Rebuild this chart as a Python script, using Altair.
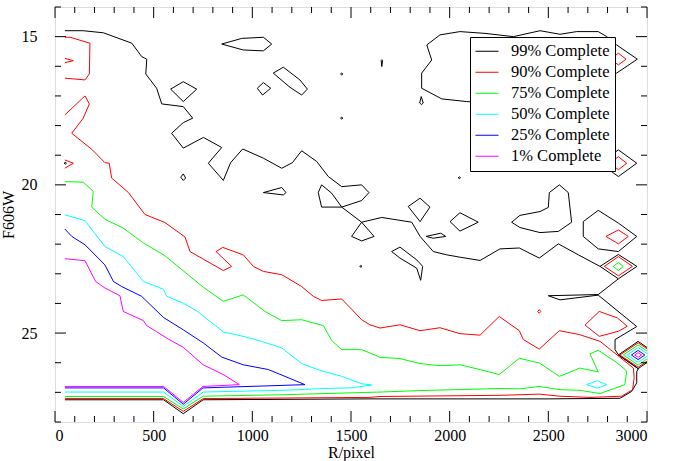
import altair as alt
import pandas as pd

# Contour levels, legend labels and line colours
levels = ["99% Complete", "90% Complete", "75% Complete",
          "50% Complete", "25% Complete", "1% Complete"]
colors = ["#000000", "#ff0000", "#00ff00", "#00ffff", "#0000ff", "#ff00ff"]

# ---- 99% contour pieces (R/pixel, F606W) ----
k_main = [(50, 14.80), (143, 14.80), (245, 14.87), (389, 15.22), (439, 15.67), (465, 15.76),
          (460, 16.26), (515, 16.74), (541, 17.27), (650, 17.36), (698, 17.75), (650, 17.90),
          (591, 18.26), (650, 18.76), (752, 18.40), (845, 18.74), (777, 19.27), (853, 19.85),
          (890, 19.25), (951, 18.79), (1056, 19.10), (1149, 19.44), (1203, 19.25), (1250, 18.85),
          (1326, 19.21), (1385, 19.72), (1453, 20.06), (1554, 20.00), (1591, 20.26), (1554, 20.53),
          (1453, 20.75), (1554, 21.26), (1656, 21.10), (1808, 21.26), (1850, 21.74), (1917, 22.25),
          (1985, 22.36), (2052, 22.44), (2154, 22.55), (2255, 22.16), (2353, 22.13), (2454, 22.47),
          (2551, 21.99), (2652, 22.36), (2762, 22.75)]
k_saddle_loop = [(1453, 20.75), (1351, 20.75), (1334, 20.26), (1351, 20.00), (1402, 20.28), (1453, 20.75)]
k_triangle = [(1554, 21.26), (1503, 21.74), (1554, 21.89), (1617, 21.74), (1554, 21.26)]
k_diamond_a = [(2762, 22.75), (2855, 22.35), (2949, 22.75), (2855, 23.17), (2762, 22.75)]
k_lower = [(2855, 23.17), (2753, 23.70), (2500, 23.74), (2559, 23.88), (2753, 23.72), (2948, 24.78),
           (2838, 25.22), (2838, 25.56), (2855, 25.73), (2956, 26.20), (2948, 26.30), (2948, 26.68),
           (2922, 26.97), (2863, 27.20), (2500, 27.22), (1596, 27.22), (751, 27.25), (650, 27.72),
           (550, 27.25), (50, 27.25)]
k_isl1 = [(845, 15.25), (946, 15.06), (1056, 15.02), (1098, 15.25), (1056, 15.48), (954, 15.45), (845, 15.25)]
k_isl2 = [(586, 16.77), (650, 16.52), (718, 16.77), (650, 17.19), (586, 16.77)]
k_isl3 = [(1025, 16.74), (1056, 16.55), (1093, 16.74), (1052, 16.97), (1025, 16.74)]
k_isl4 = [(1106, 16.23), (1157, 16.03), (1241, 16.46), (1279, 16.77), (1250, 16.97), (1191, 16.71), (1106, 16.23)]
k_isl5 = [(637, 19.74), (650, 19.63), (662, 19.77), (650, 19.85), (637, 19.74)]
k_isl6 = [(1056, 20.26), (1149, 20.09), (1171, 20.26), (1157, 20.34), (1056, 20.26)]
k_isl7 = [(1653, 15.80), (1656, 15.78), (1660, 15.80), (1656, 16.01), (1653, 15.80)]
k_isl8 = [(1848, 17.24), (1856, 17.02), (1866, 17.24), (1857, 17.29), (1848, 17.24)]
k_isl9 = [(1790, 20.73), (1850, 20.45), (1900, 20.75), (1850, 21.24), (1790, 20.73)]
k_isl10 = [(1880, 21.74), (1955, 21.63), (1980, 21.74), (1917, 21.80), (1880, 21.74)]
k_isl11 = [(2002, 21.24), (2052, 20.94), (2145, 21.26), (2052, 21.56), (2002, 21.24)]
k_isl12 = [(1706, 22.25), (1748, 22.10), (1833, 22.53), (1863, 22.75), (1853, 23.22), (1833, 22.81),
           (1748, 22.47), (1706, 22.25)]
k_isl13 = [(2314, 21.26), (2356, 21.03), (2458, 20.90), (2500, 20.76), (2505, 20.26), (2556, 20.00),
           (2601, 20.26), (2618, 21.26), (2551, 21.57), (2458, 21.61), (2356, 21.44), (2314, 21.26)]
k_isl14 = [(2677, 21.24), (2753, 20.86), (2855, 21.29), (2948, 21.74), (2855, 22.25), (2753, 22.16),
           (2677, 21.74), (2677, 21.24)]
k_top = [(1884, 15.28), (1951, 14.94), (2052, 14.83), (2179, 14.89), (2323, 15.00), (2458, 14.80),
         (2559, 14.92), (2644, 14.83), (2753, 14.83), (2796, 15.00), (2846, 15.28), (2951, 15.76),
         (2846, 16.23), (2700, 16.80), (2400, 17.30), (2086, 17.19), (1960, 17.10), (1858, 16.74),
         (1858, 16.23), (1909, 15.79), (1884, 15.28)]
k_isl15 = [(2762, 19.27), (2855, 18.82), (2948, 19.27), (2855, 19.72), (2762, 19.27)]
k_isl16 = [(2400, 19.20), (2448, 18.90), (2500, 19.20), (2448, 19.49), (2400, 19.20)]
k_dots = [(1453, 16.26), (1453, 17.75), (2049, 19.76), (1550, 22.75), (52, 19.27)]

# ---- 90% contour pieces ----
r_main = [(50, 17.64), (152, 17.00), (174, 17.27), (143, 17.75), (85, 18.26), (186, 18.80),
          (253, 19.25), (275, 19.27), (287, 19.77), (372, 20.26), (456, 21.00), (557, 21.27),
          (659, 21.76), (684, 22.25), (853, 22.89), (895, 22.75), (816, 22.25), (850, 22.11),
          (954, 22.36), (1005, 22.75), (1056, 22.92), (1149, 23.03), (1250, 23.43), (1309, 23.76),
          (1351, 23.90), (1453, 23.85), (1554, 24.55), (1596, 24.72), (1647, 24.83), (1748, 24.72),
          (1850, 24.92), (1951, 24.82), (2052, 25.02), (2154, 25.07), (2251, 24.44), (2353, 24.92),
          (2373, 25.22), (2454, 25.54), (2556, 24.92), (2657, 25.05), (2762, 25.28), (2860, 25.80),
          (2931, 26.18), (2935, 26.50), (2927, 26.91), (2872, 27.13), (2711, 27.17), (2559, 27.13),
          (2454, 27.06), (2255, 27.10), (1647, 27.14), (1596, 27.17), (751, 27.21), (650, 27.64),
          (550, 27.21), (50, 27.21)]
r_top_left = [(50, 15.02), (76, 15.02), (177, 15.22), (174, 16.26), (152, 16.46), (50, 16.40)]
r_tick_a = [(50, 15.73), (93, 15.81), (50, 15.88)]
r_tick_b = [(50, 19.16), (93, 19.27), (50, 19.44)]
r_isl1 = [(2686, 24.73), (2758, 24.27), (2850, 24.49), (2900, 24.77), (2855, 24.94), (2758, 25.11), (2686, 24.73)]
r_isl2 = [(2446, 24.27), (2454, 24.21), (2462, 24.27), (2454, 24.33), (2446, 24.27)]
r_isl3 = [(2792, 21.74), (2855, 21.52), (2905, 21.74), (2855, 21.99), (2792, 21.74)]
r_isl4 = [(2812, 15.76), (2855, 15.56), (2894, 15.76), (2855, 15.95), (2812, 15.76)]
r_isl5 = [(2812, 19.27), (2855, 19.05), (2897, 19.27), (2855, 19.49), (2812, 19.27)]
r_isl6 = [(2784, 22.75), (2855, 22.42), (2926, 22.75), (2855, 23.07), (2784, 22.75)]

# ---- 75% contour pieces ----
g_main = [(50, 19.89), (143, 19.91), (194, 20.22), (186, 20.75), (253, 21.16), (346, 21.46),
          (448, 21.96), (557, 22.39), (650, 22.90), (751, 23.45), (853, 23.93), (954, 23.71),
          (1064, 24.27), (1149, 24.58), (1250, 24.55), (1360, 24.75), (1402, 25.25), (1453, 25.56),
          (1554, 25.56), (1596, 25.67), (1647, 25.82), (1748, 25.86), (1850, 26.03), (1951, 26.10),
          (2052, 26.07), (2154, 26.23), (2251, 26.40), (2353, 25.85), (2454, 26.01), (2556, 26.46),
          (2660, 26.18), (2753, 26.31), (2711, 25.70), (2753, 25.58), (2846, 25.99), (2897, 26.28),
          (2888, 26.74), (2762, 27.04), (2660, 26.93), (2559, 26.91), (2454, 26.80),
          (2356, 26.88), (2255, 26.87), (1850, 26.94), (1647, 26.99), (1157, 27.08), (751, 27.13),
          (650, 27.56), (550, 27.14), (50, 27.14)]
g_isl1 = [(2829, 22.75), (2855, 22.62), (2880, 22.75), (2855, 22.89), (2829, 22.75)]

# ---- 50% contour pieces ----
c_main = [(50, 21.01), (152, 21.21), (253, 22.08), (346, 22.42), (448, 23.26), (549, 23.52),
          (566, 23.76), (650, 23.99), (718, 24.25), (853, 24.96), (954, 25.11), (1047, 25.28),
          (1149, 25.50), (1250, 26.03), (1343, 26.26), (1453, 26.46), (1554, 26.71), (1605, 26.75),
          (1495, 26.85), (1410, 26.86), (1157, 26.93), (751, 26.99), (650, 27.47), (550, 26.99),
          (50, 26.99)]
c_isl1 = [(2694, 26.74), (2748, 26.61), (2796, 26.74), (2748, 26.86), (2694, 26.74)]

# ---- 25% contour ----
b_main = [(50, 21.49), (85, 21.74), (152, 22.02), (253, 22.70), (296, 23.26), (338, 23.43),
          (439, 23.76), (549, 24.47), (650, 24.89), (751, 25.33), (845, 25.81), (954, 26.07),
          (1081, 26.23), (1267, 26.74), (750, 26.85), (650, 27.40), (550, 26.85), (50, 26.85)]

# ---- 1% contour ----
m_main = [(50, 22.49), (152, 22.56), (206, 23.26), (253, 23.48), (329, 23.74), (346, 24.27),
          (448, 24.58), (465, 24.75), (574, 25.20), (650, 25.48), (751, 26.07), (853, 26.40),
          (934, 26.74), (750, 26.80), (650, 27.34), (550, 26.80), (50, 26.80)]

# Peak in the lower-right corner: centre and half-widths (R/pixel, mag) per level
peak_centre = (2955, 25.74)
peak_half_x = [100, 92, 75, 55, 34, 17]
peak_half_y = [0.46, 0.41, 0.34, 0.25, 0.155, 0.078]

# Axis tick positions
x_major = [0, 500, 1000, 1500, 2000, 2500, 3000]
x_minor = [v for v in range(0, 3001, 100) if v % 500]
y_major = [15, 20, 25]
y_minor = [v for v in range(14, 29) if v % 5]

pieces = {
    levels[0]: [k_main, k_saddle_loop, k_triangle, k_diamond_a, k_lower, k_isl1, k_isl2, k_isl3,
                k_isl4, k_isl5, k_isl6, k_isl7, k_isl8, k_isl9, k_isl10, k_isl11, k_isl12,
                k_isl13, k_isl14, k_top, k_isl15, k_isl16],
    levels[1]: [r_main, r_top_left, r_tick_a, r_tick_b, r_isl1, r_isl2, r_isl3, r_isl4, r_isl5, r_isl6],
    levels[2]: [g_main, g_isl1],
    levels[3]: [c_main, c_isl1],
    levels[4]: [b_main],
    levels[5]: [m_main],
}

# tiny closed loops for the isolated 99% specks
for (dx, dy) in k_dots:
    pieces[levels[0]].append([(dx - 6, dy), (dx, dy - 0.03), (dx + 6, dy), (dx, dy + 0.03), (dx - 6, dy)])

# the corner peak rings
cx, cy = peak_centre
for lvl, hx, hy in zip(levels, peak_half_x, peak_half_y):
    pieces[lvl].append([(cx - hx, cy), (cx, cy - hy), (cx + hx, cy), (cx, cy + hy), (cx - hx, cy)])

rows = []
pid = 0
for lvl in levels:
    for path in pieces[lvl]:
        for i, (x, y) in enumerate(path):
            rows.append({"level": lvl, "path": pid, "order": i, "R": x, "mag": y})
        pid += 1
df = pd.DataFrame(rows)

W, H = 592, 415
FONT = "Times New Roman, Liberation Serif, Times, serif"

x_scale = alt.Scale(domain=[0, 3000], nice=False, zero=False)
y_scale = alt.Scale(domain=[14, 28], nice=False, zero=False, reverse=True)

contours = alt.Chart(df).mark_line(strokeWidth=1, clip=True).encode(
    x=alt.X("R:Q", scale=x_scale,
            axis=alt.Axis(title="R/pixel", values=x_major, format="d", ticks=False, domain=False,
                          grid=False, labelFont=FONT, labelFontSize=16, labelPadding=5,
                          titleFont=FONT, titleFontSize=16, titleFontWeight="normal",
                          titlePadding=1, labelColor="black", titleColor="black")),
    y=alt.Y("mag:Q", scale=y_scale,
            axis=alt.Axis(title="F606W", values=y_major, format="d", ticks=False, domain=False,
                          grid=False, labelFont=FONT, labelFontSize=16, labelPadding=18,
                          titleFont=FONT, titleFontSize=16, titleFontWeight="normal",
                          titlePadding=5, labelColor="black", titleColor="black")),
    color=alt.Color("level:N", scale=alt.Scale(domain=levels, range=colors),
                    legend=alt.Legend(title=None, orient="none", legendX=415, legendY=30,
                                      symbolType="stroke", symbolSize=529, symbolStrokeWidth=1,
                                      labelFont=FONT, labelFontSize=16.5, labelColor="black",
                                      labelOffset=12, clipHeight=18.5, rowPadding=2,
                                      padding=5, fillColor="white", strokeColor="black",
                                      labelLimit=300)),
    detail="path:N",
    order="order:Q",
)

xmaj = pd.DataFrame({"t": x_major})
xmin = pd.DataFrame({"t": x_minor})
ymaj = pd.DataFrame({"t": y_major})
ymin = pd.DataFrame({"t": y_minor})

MAJ, MIN = 11, 6


def xticks(data, length):
    base = alt.Chart(data).mark_rule(color="black", strokeWidth=1)
    bottom = base.encode(x=alt.X("t:Q", scale=x_scale), y=alt.value(H), y2=alt.value(H - length))
    top = base.encode(x=alt.X("t:Q", scale=x_scale), y=alt.value(0), y2=alt.value(length))
    return [bottom, top]


def yticks(data, length):
    base = alt.Chart(data).mark_rule(color="black", strokeWidth=1)
    left = base.encode(y=alt.Y("t:Q", scale=y_scale), x=alt.value(0), x2=alt.value(length))
    right = base.encode(y=alt.Y("t:Q", scale=y_scale), x=alt.value(W), x2=alt.value(W - length))
    return [left, right]


tick_layers = xticks(xmaj, MAJ) + xticks(xmin, MIN) + yticks(ymaj, MAJ) + yticks(ymin, MIN)

chart = alt.layer(contours, *tick_layers).properties(
    width=W, height=H,
    autosize=alt.AutoSizeParams(type="none"),
    padding={"left": 55, "top": 7, "right": 31, "bottom": 39},
).configure_view(stroke="black", strokeWidth=1.5).configure(background="white")

chart.save("out.html", embed_options={"renderer": "svg", "actions": False})
